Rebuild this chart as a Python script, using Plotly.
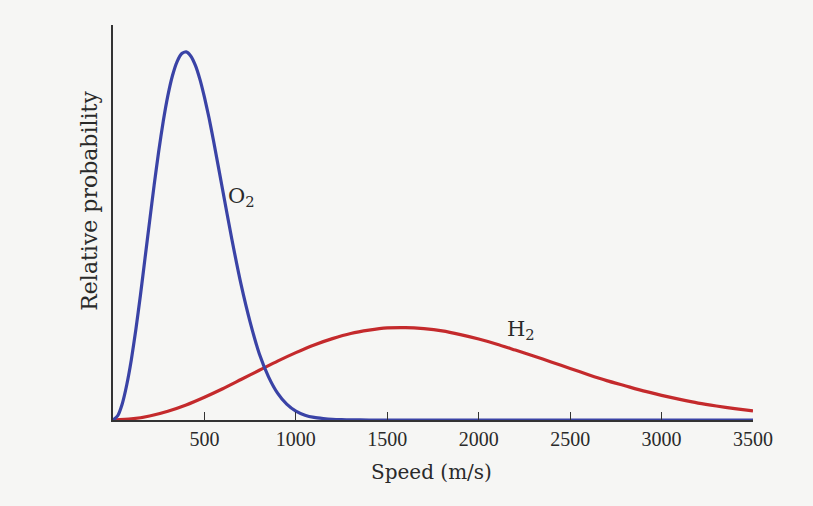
import plotly.graph_objects as go

# Speeds (m/s) and relative probability (O2 peak = 1)
o2_speed = [0, 25, 50, 75, 100, 125, 150, 175, 200, 225, 250, 275, 300, 325,
            350, 375, 400, 425, 450, 475, 500, 525, 550, 600, 650,
            700, 750, 800, 850, 900, 950, 1000, 1050, 1100, 1150, 1200, 1250,
            1300, 1400, 1600, 2000, 2500, 3000, 3500]
o2_prob = [0.0, 0.011, 0.043, 0.095, 0.163, 0.246, 0.339, 0.439, 0.539, 0.638,
           0.730, 0.812, 0.881, 0.935, 0.973, 0.995, 1.000, 0.989, 0.964, 0.926,
           0.877, 0.821, 0.758, 0.624, 0.491, 0.369, 0.266, 0.180, 0.118, 0.073,
           0.043, 0.024, 0.013, 0.007, 0.004, 0.002, 0.001, 0.0005, 0.0, 0.0,
           0.0, 0.0, 0.0, 0.0]

h2_speed = [0, 100, 200, 300, 400, 500, 600, 700, 800, 900, 1000, 1100, 1200,
            1300, 1400, 1500, 1600, 1700, 1800, 1900, 2000, 2100, 2200, 2300,
            2400, 2500, 2600, 2700, 2800, 2900, 3000, 3100, 3200, 3300, 3400, 3500]
h2_prob = [0.0, 0.003, 0.011, 0.024, 0.041, 0.062, 0.085, 0.110, 0.135, 0.160,
           0.183, 0.204, 0.221, 0.235, 0.244, 0.250, 0.251, 0.248, 0.242, 0.232,
           0.220, 0.206, 0.190, 0.174, 0.157, 0.140, 0.123, 0.107, 0.093, 0.079,
           0.067, 0.056, 0.046, 0.038, 0.031, 0.025]

x_ticks = [500, 1000, 1500, 2000, 2500, 3000, 3500]
x_tick_labels = ["500", "1000", "1500", "2000", "2500", "3000", "3500"]

BLUE = "#3a43a6"
RED = "#c42a2c"
INK = "#2a2a2a"
PAPER = "#f6f6f4"

fig = go.Figure()
fig.add_trace(go.Scatter(x=h2_speed, y=h2_prob, mode="lines",
                         line=dict(color=RED, width=3.2, shape="spline", smoothing=0.6),
                         showlegend=False, hoverinfo="skip"))
fig.add_trace(go.Scatter(x=o2_speed, y=o2_prob, mode="lines",
                         line=dict(color=BLUE, width=3.2, shape="spline", smoothing=0.6),
                         showlegend=False, hoverinfo="skip"))

fig.add_annotation(x=700, y=0.605, xref="x", yref="y", text="O<sub>2</sub>",
                   showarrow=False, font=dict(family="DejaVu Serif", size=21, color=INK))
fig.add_annotation(x=2230, y=0.245, xref="x", yref="y", text="H<sub>2</sub>",
                   showarrow=False, font=dict(family="DejaVu Serif", size=21, color=INK))

fig.add_annotation(x=-0.036, y=0.555, xref="paper", yref="paper",
                   text="Relative probability", textangle=-90, showarrow=False,
                   xanchor="center", yanchor="middle",
                   font=dict(family="DejaVu Serif", size=22, color=INK))
fig.add_annotation(x=0.498, y=-0.132, xref="paper", yref="paper",
                   text="Speed (m/s)", showarrow=False,
                   xanchor="center", yanchor="middle",
                   font=dict(family="DejaVu Serif", size=20, color=INK))

fig.update_layout(
    width=813, height=506,
    margin=dict(l=113, r=60, t=25, b=86),
    paper_bgcolor=PAPER, plot_bgcolor=PAPER,
    xaxis=dict(range=[0, 3500], showgrid=False, zeroline=False,
               showline=True, linecolor="#333333", linewidth=1.6,
               ticks="inside", ticklen=8, tickwidth=1.4, tickcolor="#333333",
               tickvals=x_ticks, ticktext=x_tick_labels,
               tickfont=dict(family="Liberation Serif", size=20, color=INK)),
    yaxis=dict(range=[0, 1.073], showgrid=False, zeroline=False,
               showline=True, linecolor="#333333", linewidth=1.6,
               showticklabels=False, ticks=""),
)

fig.write_html(
    "out.html",
    config={"displayModeBar": False},
    post_script=(
        "document.documentElement.style.margin='0';"
        "document.body.style.margin='0';"
        "document.body.style.overflow='hidden';"
        "document.body.style.background='" + PAPER + "';"
    ),
)
